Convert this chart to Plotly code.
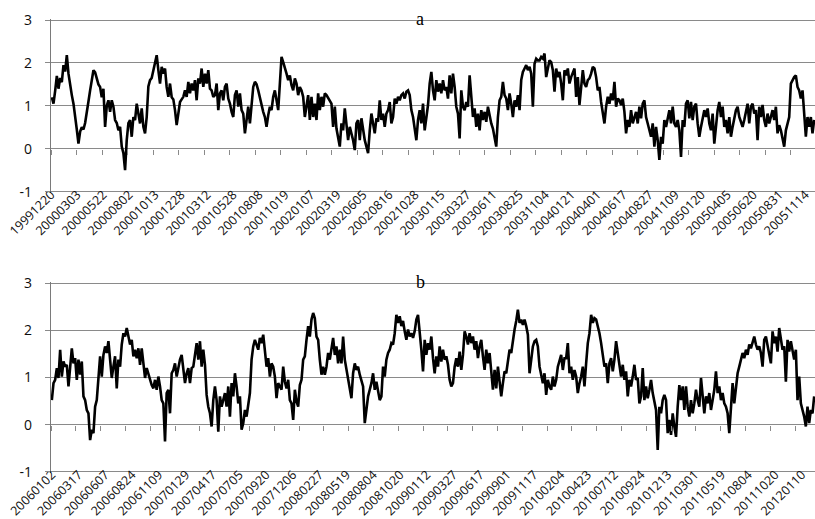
import numpy as np
import plotly.graph_objects as go

# ---------------- data ----------------
labels_a = ["19991220", "20000303", "20000522", "20000802", "20001013", "20001228",
            "20010312", "20010528", "20010808", "20011019", "20020107", "20020319",
            "20020605", "20020816", "20021028", "20030115", "20030327", "20030611",
            "20030825", "20031104", "20040121", "20040401", "20040617", "20040827",
            "20041109", "20050120", "20050405", "20050620", "20050831", "20051114"]

labels_b = ["20060102", "20060317", "20060607", "20060824", "20061109", "20070129",
            "20070417", "20070705", "20070920", "20071206", "20080227", "20080519",
            "20080804", "20081020", "20090112", "20090327", "20090617", "20090901",
            "20091117", "20100204", "20100423", "20100712", "20100924", "20101213",
            "20110301", "20110519", "20110804", "20111020", "20120110"]

y_labels = ["-1", "0", "1", "2", "3"]
y_values = [-1, 0, 1, 2, 3]

values_a = [
    1.2, 1.05, 1.35, 1.7, 1.4, 1.65, 1.55, 1.95, 1.8, 2.18,
    1.75, 1.45, 1.25, 1.05, 0.67, 0.45, 0.12, 0.4, 0.5, 0.45,
    0.6, 0.82, 1.1, 1.36, 1.6, 1.83, 1.78, 1.65, 1.5, 1.44,
    1.2, 1.4, 0.51, 1.0, 1.13, 0.86, 1.13, 0.98, 0.67, 0.6,
    0.43, 0.51, 0.05, -0.1, -0.5, 0.2, 0.6, 0.67, 0.28, 0.74,
    0.67, 1.05, 0.82, 0.59, 0.94, 0.51, 0.36, 0.74, 1.45, 1.6,
    1.65, 1.83, 1.98, 2.18, 1.83, 1.52, 1.91, 1.75, 1.87, 1.44,
    1.21, 1.52, 1.2, 1.15, 0.9, 0.55, 0.82, 1.09, 1.15, 1.21,
    1.36, 1.21, 1.56, 1.29, 1.52, 1.36, 1.6, 1.13, 1.64, 1.52,
    1.87, 1.44, 1.75, 1.52, 1.83, 1.4, 1.36, 1.21, 1.25, 1.52,
    0.9, 1.29, 1.36, 1.13, 1.44, 1.52, 1.17, 1.05, 0.86, 0.74,
    1.25, 1.36, 0.98, 1.29, 0.9, 0.82, 0.36, 0.74, 0.98, 0.59,
    1.13, 1.44, 1.56, 1.5, 1.36, 1.17, 0.98, 0.86, 0.74, 0.51,
    0.78, 0.98, 0.9, 1.21, 1.36, 1.09, 0.9, 1.52, 2.14, 2.02,
    1.91, 1.75, 1.6, 1.71, 1.48, 1.36, 1.64, 1.52, 1.25, 1.44,
    1.36, 1.21, 0.74, 0.98, 1.25, 0.67,
    1.21, 0.74, 1.05, 0.67, 1.29, 0.9, 1.21, 0.98, 1.29, 1.25,
    1.17, 1.13, 1.05, 0.51, 0.98, 0.47, 0.28, 0.05, 0.59, 0.43,
    0.94, 0.51, 0.2, 0.51, 0.36, 0.2, -0.03, 0.59, 0.67, 0.2,
    0.71, 0.4, 0.2, 0.05, -0.1, 0.43, 0.82, 0.59, 0.36, 0.71,
    0.63, 1.13, 0.67, 0.82, 0.51, 0.82, 0.9, 1.09, 0.59, 0.74,
    1.17, 1.05, 1.21, 1.13, 1.25, 1.29, 1.17, 1.33, 1.36, 1.25,
    0.9, 0.74, 0.51, 0.2, 0.67, 0.9, 0.59, 1.05, 0.43, 0.74,
    1.02, 1.52, 1.79, 1.36, 1.13, 1.6, 1.33, 1.52, 1.29, 1.6,
    1.36, 1.44, 1.17, 1.71, 1.29, 1.75, 1.44, 0.98, 0.82, 0.24,
    1.36, 0.98, 0.9, 1.09, 0.98, 1.71, 1.21, 0.74, 0.94, 0.51,
    0.82, 0.43, 0.9, 0.67, 0.86, 0.63, 0.98, 0.74, 0.59, 0.47,
    0.28, 0.05, 0.74, 1.13, 1.21, 1.56, 1.25, 1.17, 0.9, 1.29,
    1.05, 0.74, 1.13, 0.98, 1.25, 0.9, 1.6, 1.79, 1.87, 1.95,
    1.83, 1.91, 1.75, 0.98, 1.98, 2.1, 2.06, 2.06, 2.14, 2.1,
    2.22, 1.67, 1.87, 2.06, 2.02, 1.83, 1.33, 1.87, 1.67, 1.79,
    1.52, 1.13, 1.83,
    1.71, 1.87, 1.52, 1.67, 1.79, 1.87, 1.21, 1.67, 1.02, 1.44,
    1.83, 1.52, 1.44, 1.6, 1.64, 1.75, 1.91, 1.87, 1.67, 1.36,
    1.44, 1.09, 0.86, 0.59, 0.98, 1.21, 1.05, 1.29, 1.13, 1.56,
    0.98, 1.17, 1.13, 1.02, 1.17, 0.86, 0.36, 0.67, 0.51, 0.9,
    0.59, 0.74, 0.86, 0.59, 0.98, 0.71, 1.05, 1.13, 0.74, 0.59,
    0.43, 0.28, 0.59, 0.05, 0.51, 0.2, -0.26, 0.28, 0.12, 0.67,
    0.51, 0.74, 0.9, 0.59, 0.98, 0.59, 0.51, 0.67, 0.43, -0.19,
    0.67, 0.51, 1.05, 1.13, 0.71, 1.09, 0.67, 0.98, 1.05, 0.59,
    0.28, 0.51, 0.67, 0.9, 0.74, 0.94, 0.59, 0.43, 0.82, 0.12,
    0.51, 0.9, 1.09, 0.74, 0.98, 0.51, 0.67, 0.36, 0.74, 0.28,
    0.51, 0.67, 0.9, 0.98, 0.74, 0.63, 0.51, 0.67, 0.86, 1.05,
    0.59, 0.98, 1.05, 0.82, 0.9, 0.2, 0.98, 0.74, 1.02, 0.67,
    0.51, 0.82, 0.59, 0.74, 0.9, 0.67, 0.98, 0.36, 0.55, 0.43,
    0.2, 0.05, 0.43, 0.59, 0.74, 1.52, 1.6, 1.67, 1.71, 1.44,
    1.36, 1.17, 1.36, 0.9, 0.28, 0.74, 0.51, 0.74, 0.36, 0.67,
]

values_b = [
    0.52, 0.88, 0.95, 1.2, 0.99, 1.59, 1.02, 1.34, 1.23, 1.27,
    0.81, 1.16, 1.62, 1.3, 1.41, 0.95, 1.38, 1.06, 1.34, 0.6,
    0.52, 0.31, 0.24, -0.33, -0.11, -0.18, 0.38, 0.52, 0.95, 1.45,
    1.02, 1.48, 1.66, 1.52, 1.77, 1.45, 0.99, 1.23, 1.45, 0.77,
    1.38, 1.23, 1.7, 1.94, 1.87, 2.05, 1.87, 1.7, 1.8, 1.45,
    1.59, 1.41, 1.62, 1.27, 1.62, 1.23, 0.99, 1.2, 1.06, 0.95,
    0.84, 0.77, 0.95, 0.74, 1.02, 0.81, 0.52, 0.45, -0.36, 0.67,
    0.74, 0.24, 1.09, 1.16, 1.3, 1.02, 1.23, 1.38, 1.48, 1.13,
    0.88, 1.09, 1.2, 0.88, 1.2, 1.23, 1.52, 1.73, 1.38, 1.77,
    1.23, 1.59, 1.27, 0.63, 0.38, 0.24, -0.04, 0.52, 0.81, 0.52,
    -0.15, 0.6, 0.38, 0.52, 0.67, 0.38, 0.81, 0.17, 0.88, 0.6,
    1.09, 0.81, 0.45, 0.6, -0.11, 0.03, 0.31, 0.17, 0.38, 0.67,
    1.38, 1.66, 1.8, 1.7, 1.59, 1.84, 1.73, 1.91, 1.52, 1.23,
    1.41, 1.02, 1.3, 1.23, 1.02, 0.56, 0.88, 0.81, 0.74, 1.23,
    0.91, 0.77, 0.95, 0.52, 0.45, 0.1, 0.74, 0.49, 0.38, 0.84,
    0.95, 1.38, 1.45, 1.8, 2.09, 1.87,
    2.23, 2.37, 2.26, 1.87, 1.8, 1.38, 1.06, 1.23, 1.06, 1.23,
    1.52, 1.38, 1.59, 1.84, 1.48, 1.66, 1.3, 1.59, 1.3, 1.87,
    1.38, 1.16, 0.95, 0.74, 0.56, 1.09, 1.3, 1.16, 1.23, 1.06,
    0.95, 0.81, 0.03, 0.38, 0.6, 0.74, 0.88, 1.09, 0.74, 0.91,
    0.67, 0.52, 0.6, 1.23, 1.02, 1.38, 1.52, 1.59, 1.73, 1.7,
    1.94, 2.33, 2.16, 2.3, 2.09, 2.2, 1.98, 1.8, 2.02, 1.87,
    1.94, 1.84, 1.98, 2.23, 2.33, 2.02, 1.59, 1.13, 1.8, 1.48,
    1.73, 1.59, 1.87, 1.41, 1.09, 1.45, 1.23, 1.66, 1.34, 1.59,
    1.38, 1.45, 1.27, 0.95, 0.81, 0.88, 1.23, 1.41, 1.23, 1.55,
    1.16, 1.48, 1.98, 1.87, 1.7, 1.94, 1.73, 1.87, 1.59, 1.77,
    1.41, 1.66, 1.8, 1.45, 1.16, 1.59, 1.3, 1.52, 1.02, 0.74,
    1.16, 0.77, 1.23, 0.95, 0.6, 0.88, 1.13, 1.09, 1.38, 1.59,
    1.52, 1.8, 2.02, 2.2, 2.44, 2.16, 2.23, 2.12, 2.23, 2.09,
    1.91, 1.09, 1.45, 1.66, 1.77, 1.8, 1.66, 1.23, 1.06, 0.88,
    1.09, 0.63, 0.95, 0.81, 0.74, 1.02, 0.81, 0.95, 1.23, 1.34,
    1.48, 1.16, 1.41,
    1.41, 1.73, 1.09, 1.23, 0.95, 1.16, 1.02, 0.67, 0.88, 1.02,
    1.23, 0.81, 1.3, 1.73, 1.94, 2.33, 2.16, 2.26, 2.23, 2.09,
    1.94, 1.73, 1.52, 1.23, 1.3, 0.88, 1.3, 1.41, 1.13, 1.38,
    1.77, 1.52, 1.23, 1.02, 1.27, 0.95, 1.13, 0.6, 0.95, 0.81,
    1.02, 1.27, 0.95, 0.99, 0.45, 0.6, 1.2, 0.52, 0.81, 0.56,
    0.74, 0.95, 0.67, 0.45, 0.31, -0.54, 0.38, 0.24, 0.52, 0.63,
    0.52, -0.18, 0.1, -0.22, 0.24, -0.04, -0.26, 0.38, 0.84, 0.52,
    0.81, 0.31, 0.81, 0.38, 0.17, 0.52, 0.24, 0.45, 0.74, 0.52,
    0.38, 0.99, 0.67, 0.24, 0.6, 0.45, 0.67, 0.31, 0.52, 0.74,
    1.13, 0.67, 0.81, 0.52, 0.67, 0.45, 0.38, 0.24, -0.18, 0.31,
    0.88, 0.45, 0.81, 1.09, 1.23, 1.38, 1.52, 1.41, 1.59, 1.48,
    1.7, 1.62, 1.73, 1.87, 1.7, 1.59, 1.66, 1.52, 1.23, 1.8,
    1.87, 1.66, 1.52, 1.3, 1.98, 1.73, 1.87, 1.55, 2.05, 1.8,
    1.59, 1.66, 0.91, 1.8, 1.55, 1.77, 1.52, 1.38, 1.59, 0.52,
    1.02, 0.45, 0.31, 0.17, -0.04, 0.38, 0.03, 0.31, 0.24, 0.6,
]

# trading days represented by each panel and Excel-style tick/label intervals
DAYS_A, DAYS_B = 1498, 1540
TICK_EVERY = 50
LABEL_EVERY_A, LABEL_EVERY_B = 51, 54

# ---------------- layout geometry ----------------
W, H = 815, 519
GRID = "#8a8a8a"
AXIS = "#7a7a7a"
TXT = "#0d0d0d"
X_DOM = [51 / W, 1.0]
PAD = 0.03  # small range padding so the 3 and -1 grid lines are drawn
Y_RANGE = [-1 - PAD, 3 + PAD]


def y_domain(top_px, bot_px):
    ppu = (bot_px - top_px) / 4.0
    return [1 - (bot_px + PAD * ppu) / H, 1 - (top_px - PAD * ppu) / H]


def zero_pos(top_px, bot_px):
    ppu = (bot_px - top_px) / 4.0
    return 1 - (top_px + 3 * ppu) / H


DOM_A = y_domain(20.0, 191.7)
DOM_B = y_domain(283.3, 471.7)
zero_a = zero_pos(20.0, 191.7)
zero_b = zero_pos(283.3, 471.7)


def axis_positions(n, days, every, count, shift):
    s = n / days
    return [shift + k * every * s for k in range(count)]


na, nb = len(values_a), len(values_b)
ticks_a = axis_positions(na, DAYS_A, TICK_EVERY, 30, -0.5)
ticks_b = axis_positions(nb, DAYS_B, TICK_EVERY, 31, -0.5)
labpos_a = axis_positions(na, DAYS_A, LABEL_EVERY_A, len(labels_a), -0.45)
labpos_b = axis_positions(nb, DAYS_B, LABEL_EVERY_B, len(labels_b), 0.0)

fig = go.Figure()
fig.add_trace(go.Scatter(x=np.arange(na), y=values_a, mode="lines",
                         line=dict(color="black", width=2.6), xaxis="x", yaxis="y",
                         hoverinfo="skip", showlegend=False))
fig.add_trace(go.Scatter(x=np.arange(nb), y=values_b, mode="lines",
                         line=dict(color="black", width=2.6), xaxis="x2", yaxis="y2",
                         hoverinfo="skip", showlegend=False))
# carriers for the tick-mark axes that sit on the zero line
fig.add_trace(go.Scatter(x=[None], y=[None], xaxis="x3", yaxis="y", showlegend=False,
                         hoverinfo="skip"))
fig.add_trace(go.Scatter(x=[None], y=[None], xaxis="x4", yaxis="y2", showlegend=False,
                         hoverinfo="skip"))

xlab_font = dict(family="Open Sans", size=12.5, color=TXT)
ylab_font = dict(family="Open Sans", size=14, color=TXT)


def label_axis(anchor, rng, pos, text):
    return dict(domain=X_DOM, anchor=anchor, range=rng, showgrid=False, zeroline=False,
                showline=False, ticks="", tickmode="array", tickvals=pos, ticktext=text,
                tickangle=-45, tickfont=xlab_font, automargin=False,
                ticklabelstandoff=-9)


def tick_axis(over, rng, pos, where):
    return dict(overlaying=over, anchor="free", position=where, range=rng,
                showgrid=False, zeroline=False, showline=False, ticks="outside",
                ticklen=5, tickwidth=1.2, tickcolor=GRID, tickmode="array", tickvals=pos,
                showticklabels=False)


def value_axis(anchor, dom):
    return dict(domain=dom, anchor=anchor, range=Y_RANGE, tickmode="array",
                tickvals=y_values, ticktext=y_labels, showgrid=True, gridcolor=GRID,
                gridwidth=1, zeroline=False, showline=True, linecolor=AXIS, linewidth=1.3,
                ticks="outside", ticklen=5, tickcolor=GRID, tickfont=ylab_font,
                automargin=False, ticklabelstandoff=10)


rng_a = [-0.5, na - 0.5]
rng_b = [-0.5, nb - 0.5]

fig.update_layout(
    width=W, height=H,
    margin=dict(l=0, r=0, t=0, b=0),
    paper_bgcolor="white", plot_bgcolor="white",
    showlegend=False,
    xaxis=label_axis("y", rng_a, labpos_a, labels_a),
    xaxis2=label_axis("y2", rng_b, labpos_b, labels_b),
    xaxis3=tick_axis("x", rng_a, ticks_a, zero_a),
    xaxis4=tick_axis("x2", rng_b, ticks_b, zero_b),
    yaxis=value_axis("x", DOM_A),
    yaxis2=value_axis("x2", DOM_B),
    annotations=[
        dict(text="a", x=420 / W, y=1 - 19 / H, xref="paper", yref="paper",
             xanchor="center", yanchor="middle", showarrow=False,
             font=dict(family="Liberation Serif", size=18, color="black")),
        dict(text="b", x=420 / W, y=1 - 282 / H, xref="paper", yref="paper",
             xanchor="center", yanchor="middle", showarrow=False,
             font=dict(family="Liberation Serif", size=18, color="black")),
    ],
)

fig.write_html("out.html", config={"displayModeBar": False},
               post_script="document.body.style.margin='0';document.body.style.overflow='hidden';")
